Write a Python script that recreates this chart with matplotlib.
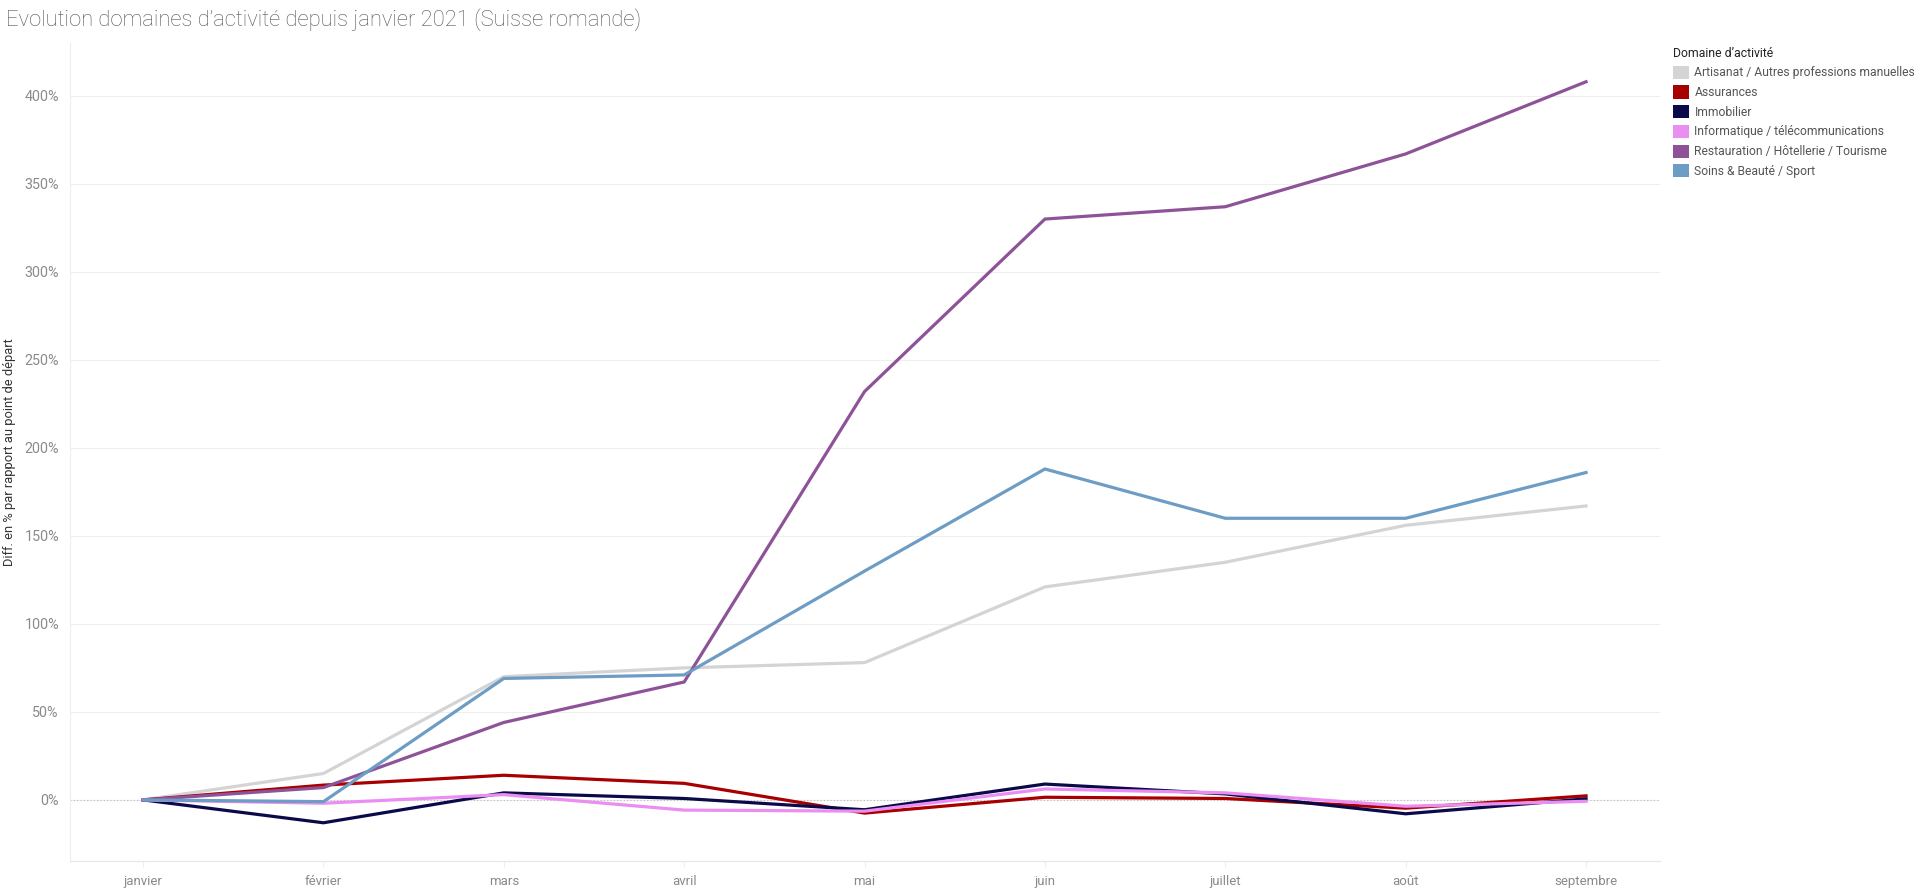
import matplotlib
matplotlib.use("Agg")
import matplotlib.pyplot as plt
from matplotlib.patches import Patch
from matplotlib.ticker import FuncFormatter, MultipleLocator

months = ["janvier", "février", "mars", "avril", "mai", "juin", "juillet", "août", "septembre"]

artisanat = [0, 15, 70, 75, 78, 121, 135, 156, 167]
assurances = [0, 8.4, 14, 9.4, -7.5, 1.5, 0.8, -4.7, 2.3]
immobilier = [0, -13, 4, 0.8, -5.6, 9, 3.4, -7.9, 0.6]
informatique = [0, -1.9, 3, -5.8, -6.4, 6.2, 4, -3.6, -0.8]
restauration = [0, 7, 44, 67, 232, 330, 337, 367, 408]
soins = [0, -1, 69, 71, 130, 188, 160, 160, 186]

names = ["Artisanat / Autres professions manuelles", "Assurances", "Immobilier",
         "Informatique / télécommunications", "Restauration / Hôtellerie / Tourisme",
         "Soins & Beauté / Sport"]
colors = ["#d4d4d4", "#a80000", "#0a0a4a", "#ea8ef2", "#8e5299", "#6d9cc4"]
series = [artisanat, assurances, immobilier, informatique, restauration, soins]

plt.rcParams['font.family'] = ['Roboto', 'DejaVu Sans']

fig = plt.figure(figsize=(19.28, 8.91), dpi=100)
ax = fig.add_axes([0.0363, 0.0337, 0.861 - 0.0363, 0.9517 - 0.0337])

x = list(range(len(months)))
draw_order = [0, 5, 4, 3, 2, 1]
for i in draw_order:
    ax.plot(x, series[i], color=colors[i], lw=2.3, solid_joinstyle='miter', zorder=3 + i * 0.1)

ax.axhline(0, color="#bbbbbb", lw=0.8, ls=(0, (1, 2)), zorder=1)

ax.set_xlim(-0.405, 8.41)
ax.set_ylim(-34.7, 430)
ax.yaxis.set_major_locator(MultipleLocator(50))
ax.yaxis.set_major_formatter(FuncFormatter(lambda v, p: f"{int(v)}%"))
ax.set_xticks(x)
ax.set_xticklabels(months)

ax.grid(axis='y', color="#efefef", lw=0.8, zorder=0)
ax.set_axisbelow(True)

for s in ["top", "right"]:
    ax.spines[s].set_visible(False)
ax.spines["left"].set_color("#eeeeee")
ax.spines["bottom"].set_color("#e6e6e6")
ax.spines["left"].set_linewidth(0.8)
ax.spines["bottom"].set_linewidth(0.8)

ax.tick_params(axis='y', length=0, labelsize=10.3, labelcolor="#8a8a8a", pad=8)
ax.tick_params(axis='x', length=4, color="#eeeeee", labelsize=9.5, labelcolor="#8a8a8a", pad=6)

ax.set_ylabel("Diff. en % par rapport au point de départ", fontsize=9.3, color="#333333")
ax.yaxis.set_label_coords(-0.034, 0.5)

fig.text(0.003, 0.978, "Evolution domaines d\u2019activité depuis janvier 2021 (Suisse romande)",
         fontsize=15.8, color="#555555", fontweight='light', va='center', ha='left')

handles = [Patch(facecolor=c, edgecolor='none') for c in colors]
leg = fig.legend(handles, names, loc='upper left', bbox_to_anchor=(0.8635, 0.957),
                 frameon=False, fontsize=8.7, title="Domaine d\u2019activité",
                 title_fontsize=8.8, handlelength=1.3, handleheight=1.3,
                 handletextpad=0.45, labelspacing=0.5, alignment='left', borderpad=0.2)
for t in leg.get_texts():
    t.set_color("#555555")
leg.get_title().set_color("#222222")

fig.savefig("out.png", dpi=100, facecolor="white")
